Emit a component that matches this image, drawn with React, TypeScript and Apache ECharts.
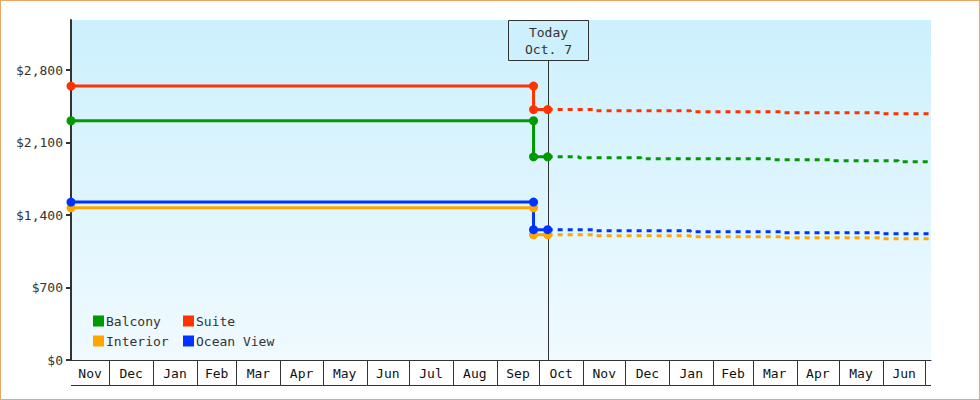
import React, { useEffect, useRef } from "react";
import * as echarts from "echarts";

// ---- data ----
const axisStart = "2016-11-04";
const axisEnd = "2018-07-05";
const todayDate = "2017-10-07";
const todayLabel = "Today\nOct. 7";
const stepDate = "2017-09-27";

const seriesNames = ["Balcony", "Suite", "Interior", "Ocean View"];
const seriesColors = ["#009900", "#ff3300", "#ffa500", "#0033ff"];
const legendColumn1 = ["Balcony", "Interior"];
const legendColumn2 = ["Suite", "Ocean View"];

// price before and after the drop
const pastPrice = [2310, 2645, 1470, 1525];
const currentPrice = [1962, 2418, 1209, 1258];

// forecast (step changes)
const forecastDates = ["2017-10-07", "2017-11-08", "2018-01-16", "2018-03-23", "2018-06-01", "2018-07-05"];
const balconyForecastDates = ["2017-10-07", "2017-10-29", "2017-12-12", "2018-03-15", "2018-04-25", "2018-06-12", "2018-07-05"];
const balconyForecast = [1962, 1952, 1943, 1933, 1923, 1914, 1914];
const suiteForecast = [2418, 2407, 2397, 2388, 2378, 2378];
const interiorForecast = [1209, 1199, 1190, 1180, 1170, 1170];
const oceanViewForecast = [1258, 1248, 1238, 1228, 1218, 1218];

const yTicks = [0, 700, 1400, 2100, 2800];
const yMax = 3283;

const monthLabels = ["Nov", "Dec", "Jan", "Feb", "Mar", "Apr", "May", "Jun", "Jul", "Aug", "Sep", "Oct", "Nov", "Dec", "Jan", "Feb", "Mar", "Apr", "May", "Jun", "Jul"];
const monthStarts = [
  "2016-11-01", "2016-12-01", "2017-01-01", "2017-02-01", "2017-03-01", "2017-04-01", "2017-05-01",
  "2017-06-01", "2017-07-01", "2017-08-01", "2017-09-01", "2017-10-01", "2017-11-01", "2017-12-01",
  "2018-01-01", "2018-02-01", "2018-03-01", "2018-04-01", "2018-05-01", "2018-06-01", "2018-07-01",
  "2018-08-01",
];

// ---- helpers ----
const ts = (s: string) => {
  const [y, m, d] = s.split("-").map(Number);
  return new Date(y, m - 1, d).getTime();
};

const FONT = '"DejaVu Sans Mono", monospace';
const AXIS_COLOR = "#333";

const legendBase = (data: string[], left: number) => ({
  data,
  left,
  top: 312,
  orient: "vertical",
  padding: 0,
  itemGap: 2,
  itemWidth: 11,
  itemHeight: 11,
  icon: "rect",
  selectedMode: false,
  textStyle: { fontFamily: FONT, fontSize: 13, color: "#333", lineHeight: 18, padding: [0, 0, 0, -3] },
});

export default function App() {
  const ref = useRef<HTMLDivElement>(null);

  useEffect(() => {
    if (!ref.current) return;
    const chart = echarts.init(ref.current, null, { renderer: "svg" });

    const forecasts = [balconyForecast, suiteForecast, interiorForecast, oceanViewForecast];
    const fDates = [balconyForecastDates, forecastDates, forecastDates, forecastDates];

    const solidSeries = seriesNames.map((name, i) => ({
      name,
      type: "line",
      z: 3,
      symbol: "circle",
      symbolSize: 9,
      showSymbol: true,
      itemStyle: { color: seriesColors[i], borderWidth: 0 },
      lineStyle: { color: seriesColors[i], width: 3 },
      data: [
        [ts(axisStart), pastPrice[i]],
        [ts(stepDate), pastPrice[i]],
        [ts(stepDate), currentPrice[i]],
        [ts(todayDate), currentPrice[i]],
      ],
    }));

    const dashedSeries = seriesNames.map((name, i) => ({
      name,
      type: "line",
      z: 2,
      step: "end",
      showSymbol: false,
      symbol: "none",
      itemStyle: { color: seriesColors[i] },
      lineStyle: { color: seriesColors[i], width: 3, type: [5, 5], cap: "butt" },
      data: fDates[i].map((d, k) => [ts(d), forecasts[i][k]]),
    }));

    const monthData = monthLabels.map((_, i) => [ts(monthStarts[i]), ts(monthStarts[i + 1]), i]);

    const option: any = {
      animation: false,
      grid: {
        left: 71,
        top: 20,
        right: 49,
        bottom: 40,
        show: true,
        borderWidth: 0,
        backgroundColor: {
          type: "linear",
          x: 0,
          y: 0,
          x2: 0,
          y2: 1,
          colorStops: [
            { offset: 0, color: "#ccf0fd" },
            { offset: 1, color: "#f0faff" },
          ],
        },
      },
      legend: [legendBase(legendColumn1, 93), legendBase(legendColumn2, 183)],
      xAxis: {
        type: "time",
        min: ts(axisStart),
        max: ts(axisEnd),
        axisLine: { show: true, lineStyle: { color: AXIS_COLOR, width: 1 } },
        axisTick: { show: false },
        axisLabel: { show: false },
        splitLine: { show: false },
      },
      yAxis: {
        type: "value",
        min: 0,
        max: yMax,
        interval: 700,
        axisLine: { show: true, lineStyle: { color: AXIS_COLOR, width: 2 } },
        axisTick: { show: true, length: 5, lineStyle: { color: AXIS_COLOR, width: 2 }, customValues: yTicks },
        axisLabel: {
          customValues: yTicks,
          margin: 8,
          fontFamily: FONT,
          fontSize: 13,
          color: "#333",
          formatter: (v: number) => "$" + Math.round(v).toLocaleString("en-US"),
        },
        splitLine: { show: false },
      },
      series: [
        {
          type: "custom",
          name: "months",
          silent: true,
          clip: false,
          z: 1,
          encode: { x: [0, 1] },
          data: monthData,
          renderItem: (params: any, api: any) => {
            const cs = params.coordSys;
            const a = api.coord([api.value(0), 0])[0];
            const b = api.coord([api.value(1), 0])[0];
            const left = cs.x;
            const right = cs.x + cs.width;
            const x0 = Math.max(a, left);
            const x1 = Math.min(b, right);
            if (x1 <= x0) return null;
            const yb = cs.y + cs.height;
            const yBottom = Math.round(yb + 25) + 0.5;
            const children: any[] = [
              {
                type: "line",
                shape: { x1: x0, y1: yBottom, x2: x1, y2: yBottom },
                style: { stroke: AXIS_COLOR, lineWidth: 1 },
              },
            ];
            if (b < right) {
              const xs = Math.round(x1) + 0.5;
              children.push({
                type: "line",
                shape: { x1: xs, y1: yb, x2: xs, y2: yBottom },
                style: { stroke: AXIS_COLOR, lineWidth: 1 },
              });
            }
            if (x1 - x0 > 25) {
              children.push({
                type: "text",
                x: (x0 + x1) / 2,
                y: yb + 13,
                style: {
                  text: monthLabels[api.value(2)],
                  fontFamily: FONT,
                  fontSize: 13,
                  fill: "#111",
                  align: "center",
                  verticalAlign: "middle",
                },
              });
            }
            return { type: "group", children };
          },
        },
        {
          type: "custom",
          name: "today",
          silent: true,
          clip: false,
          z: 1,
          encode: { x: 0 },
          data: [[ts(todayDate)]],
          renderItem: (params: any, api: any) => {
            const cs = params.coordSys;
            const x = Math.round(api.coord([api.value(0), 0])[0]) + 0.5;
            const top = cs.y + 0.5;
            const boxH = 40;
            const boxW = 80;
            return {
              type: "group",
              children: [
                {
                  type: "rect",
                  shape: { x: x - boxW / 2, y: top, width: boxW, height: boxH },
                  style: { fill: "rgba(204,240,253,0.6)", stroke: AXIS_COLOR, lineWidth: 1 },
                },
                {
                  type: "line",
                  shape: { x1: x, y1: top + boxH, x2: x, y2: cs.y + cs.height },
                  style: { stroke: AXIS_COLOR, lineWidth: 1 },
                },
                {
                  type: "text",
                  x: x,
                  y: top + boxH / 2,
                  style: {
                    text: todayLabel,
                    fontFamily: FONT,
                    fontSize: 13,
                    lineHeight: 17,
                    fill: "#333",
                    align: "center",
                    verticalAlign: "middle",
                  },
                },
              ],
            };
          },
        },
        ...dashedSeries,
        ...solidSeries,
      ],
    };

    chart.setOption(option);
    return () => chart.dispose();
  }, []);

  return (
    <div style={{ position: "absolute", left: 0, top: 0, width: 980, height: 400, background: "#fff" }}>
      <div ref={ref} style={{ position: "absolute", left: 0, top: 0, width: 980, height: 400 }} />
      <div
        style={{
          position: "absolute",
          left: 0,
          top: 0,
          width: 980,
          height: 400,
          boxSizing: "border-box",
          border: "1px solid #e8a862",
          pointerEvents: "none",
        }}
      />
    </div>
  );
}
